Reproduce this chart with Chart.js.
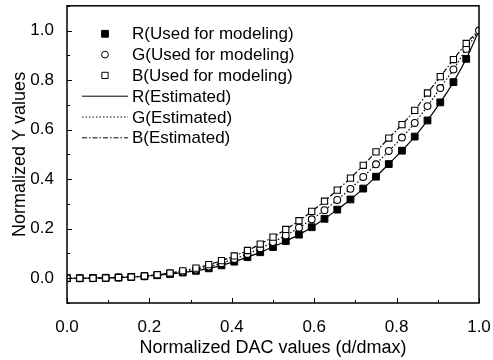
<!DOCTYPE html>
<html lang="en">
<head>
<meta charset="UTF-8">
<title>Normalized Y values vs normalized DAC values</title>
<script src="https://cdn.jsdelivr.net/npm/chart.js@4"></script>
<style>
    html, body { margin: 0; padding: 0; background: #fff; }
    #wrap { width: 493px; height: 360px; }
</style>
</head>
<body>
<div id="wrap"><canvas id="chart" width="493" height="360"></canvas></div>
<script>
    // DAC steps (d/dmax) and the normalized Y
    const dacValues = [0, 0.031, 0.063, 0.094, 0.125, 0.156, 0.188, 0.219, 0.25, 0.281, 0.313,
        0.344, 0.375, 0.406, 0.438, 0.469, 0.5, 0.531, 0.563, 0.594, 0.625, 0.656, 0.688,
        0.719, 0.75, 0.781, 0.813, 0.844, 0.875, 0.906, 0.938, 0.969, 1.0];
    const rValues = [0, 0, 0.001, 0.002, 0.003, 0.005, 0.008, 0.012, 0.017, 0.023, 0.030,
        0.040, 0.052, 0.067, 0.085, 0.105, 0.126, 0.150, 0.176, 0.206, 0.240, 0.277, 0.318,
        0.362, 0.410, 0.461, 0.515, 0.572, 0.637, 0.710, 0.792, 0.886, 1.0];
    const gValues = [0, 0, 0, 0.001, 0.003, 0.005, 0.008, 0.013, 0.019, 0.026, 0.035,
        0.047, 0.061, 0.078, 0.098, 0.121, 0.146, 0.173, 0.204, 0.238, 0.275, 0.316, 0.361,
        0.409, 0.460, 0.514, 0.568, 0.627, 0.695, 0.768, 0.843, 0.926, 1.0];
    const bValues = [0, 0, 0, 0.001, 0.003, 0.005, 0.009, 0.014, 0.021, 0.030, 0.041,
        0.055, 0.071, 0.090, 0.112, 0.138, 0.166, 0.197, 0.232, 0.270, 0.311, 0.356, 0.404,
        0.456, 0.510, 0.566, 0.620, 0.678, 0.748, 0.814, 0.883, 0.948, 1.0];
    const xTickLabels = [0, 0.2, 0.4, 0.6, 0.8, 1.0];
    const yTickLabels = [0, 0.2, 0.4, 0.6, 0.8, 1.0];

    const FONT = "'Liberation Sans', Arial, sans-serif";

    // markers: the top-right point is only shown once (G), the others sit under it
    function pts(vals, hideLast) {
        return dacValues.map((x, i) => ({ x: x, y: (hideLast && i === vals.length - 1) ? null : vals[i] }));
    }

    const datasets = [
        { label: 'R(Used for modeling)', data: pts(rValues, true), showLine: false, order: 2,
          pointStyle: 'rect', pointRadius: 4.8, pointBackgroundColor: '#000', pointBorderColor: '#000',
          pointBorderWidth: 1, kind: 'marker' },
        { label: 'G(Used for modeling)', data: pts(gValues, false), showLine: false, order: 1,
          pointStyle: 'circle', pointRadius: 3.4, pointBackgroundColor: '#fff', pointBorderColor: '#000',
          pointBorderWidth: 1.1, kind: 'marker' },
        { label: 'B(Used for modeling)', data: pts(bValues, true), showLine: false, order: 0,
          pointStyle: 'rect', pointRadius: 4.4, pointBackgroundColor: '#fff', pointBorderColor: '#000',
          pointBorderWidth: 1.1, kind: 'marker' },
        { label: 'R(Estimated)', data: pts(rValues, false), order: 5, borderColor: '#000',
          borderWidth: 1.2, borderDash: [], pointRadius: 0, cubicInterpolationMode: 'monotone', kind: 'line' },
        { label: 'G(Estimated)', data: pts(gValues, false), order: 4, borderColor: '#000',
          borderWidth: 1.2, borderDash: [1.5, 2], pointRadius: 0, cubicInterpolationMode: 'monotone', kind: 'line' },
        { label: 'B(Estimated)', data: pts(bValues, false), order: 3, borderColor: '#000',
          borderWidth: 1.2, borderDash: [5, 2, 1.5, 2], pointRadius: 0, cubicInterpolationMode: 'monotone', kind: 'line' }
    ];

    // frame + inward ticks
    const framePlugin = {
        id: 'frame',
        afterDatasetsDraw(chart) {
            const { ctx, chartArea: a, scales } = chart;
            ctx.save();
            ctx.strokeStyle = '#000';
            ctx.lineWidth = 1.5;
            ctx.strokeRect(a.left, a.top, a.right - a.left, a.bottom - a.top);
            ctx.lineWidth = 1;
            ctx.beginPath();
            for (let i = -1; i <= 11; i++) {
                const py = Math.round(scales.y.getPixelForValue(i / 10)) + 0.5;
                const len = i % 2 === 0 ? 5 : 3;
                ctx.moveTo(a.left, py); ctx.lineTo(a.left + len, py);
            }
            for (let i = 0; i <= 10; i++) {
                const px = Math.round(scales.x.getPixelForValue(i / 10)) + 0.5;
                const len = i % 2 === 0 ? 5 : 3;
                ctx.moveTo(px, a.bottom); ctx.lineTo(px, a.bottom - len);
            }
            ctx.stroke();
            ctx.restore();
        }
    };

    // legend drawn inside the plot, top-left
    const legendPlugin = {
        id: 'innerLegend',
        afterDraw(chart) {
            const { ctx, chartArea: a } = chart;
            const markerX = a.left + 38;
            const lineX0 = a.left + 15, lineX1 = a.left + 61;
            const textX = a.left + 65;
            ctx.save();
            ctx.font = '17px ' + FONT;
            ctx.textBaseline = 'middle';
            ctx.fillStyle = '#000';
            chart.data.datasets.forEach((ds, i) => {
                const y = a.top + 28 + i * 20.8;
                ctx.strokeStyle = '#000';
                ctx.lineWidth = 1;
                if (ds.kind === 'marker') {
                    ctx.beginPath();
                    if (ds.pointStyle === 'circle') {
                        ctx.arc(markerX, y, ds.pointRadius, 0, Math.PI * 2);
                    } else {
                        const s = ds.pointRadius * Math.SQRT1_2;
                        ctx.rect(markerX - s, y - s, 2 * s, 2 * s);
                    }
                    ctx.fillStyle = ds.pointBackgroundColor;
                    ctx.fill();
                    ctx.stroke();
                } else {
                    ctx.setLineDash(ds.borderDash);
                    ctx.beginPath();
                    ctx.moveTo(lineX0, y); ctx.lineTo(lineX1, y);
                    ctx.stroke();
                    ctx.setLineDash([]);
                }
                ctx.fillStyle = '#000';
                ctx.fillText(ds.label, textX, y + 1);
            });
            ctx.restore();
        }
    };

    new Chart(document.getElementById('chart'), {
        type: 'line',
        data: { datasets: datasets },
        options: {
            responsive: false,
            animation: false,
            layout: { padding: { top: 5, right: 14, left: 0, bottom: 0 } },
            plugins: { legend: { display: false }, tooltip: { enabled: false } },
            scales: {
                x: {
                    type: 'linear', min: 0, max: 1,
                    afterBuildTicks: s => { s.ticks = xTickLabels.map(v => ({ value: v })); },
                    afterFit: s => { s.height = 57; s.paddingLeft = 0; s.paddingRight = 0; },
                    grid: { display: false }, border: { display: false },
                    ticks: { color: '#000', font: { family: FONT, size: 17 }, padding: 6,
                             maxRotation: 0, callback: v => v.toFixed(1) },
                    title: { display: true, text: 'Normalized DAC values (d/dmax)', color: '#000',
                             font: { family: FONT, size: 18 }, padding: { top: 0, bottom: 1 } }
                },
                y: {
                    type: 'linear', min: -0.1, max: 1.1,
                    afterBuildTicks: s => { s.ticks = yTickLabels.map(v => ({ value: v })); },
                    afterFit: s => { s.width = 67; s.paddingTop = 0; s.paddingBottom = 0; },
                    grid: { display: false }, border: { display: false },
                    ticks: { color: '#000', font: { family: FONT, size: 17 }, padding: 5,
                             callback: v => v.toFixed(1) },
                    title: { display: true, text: 'Normalized Y values', color: '#000',
                             font: { family: FONT, size: 18 }, padding: { top: 9, bottom: 0 } }
                }
            }
        },
        plugins: [framePlugin, legendPlugin]
    });
</script>
</body>
</html>
